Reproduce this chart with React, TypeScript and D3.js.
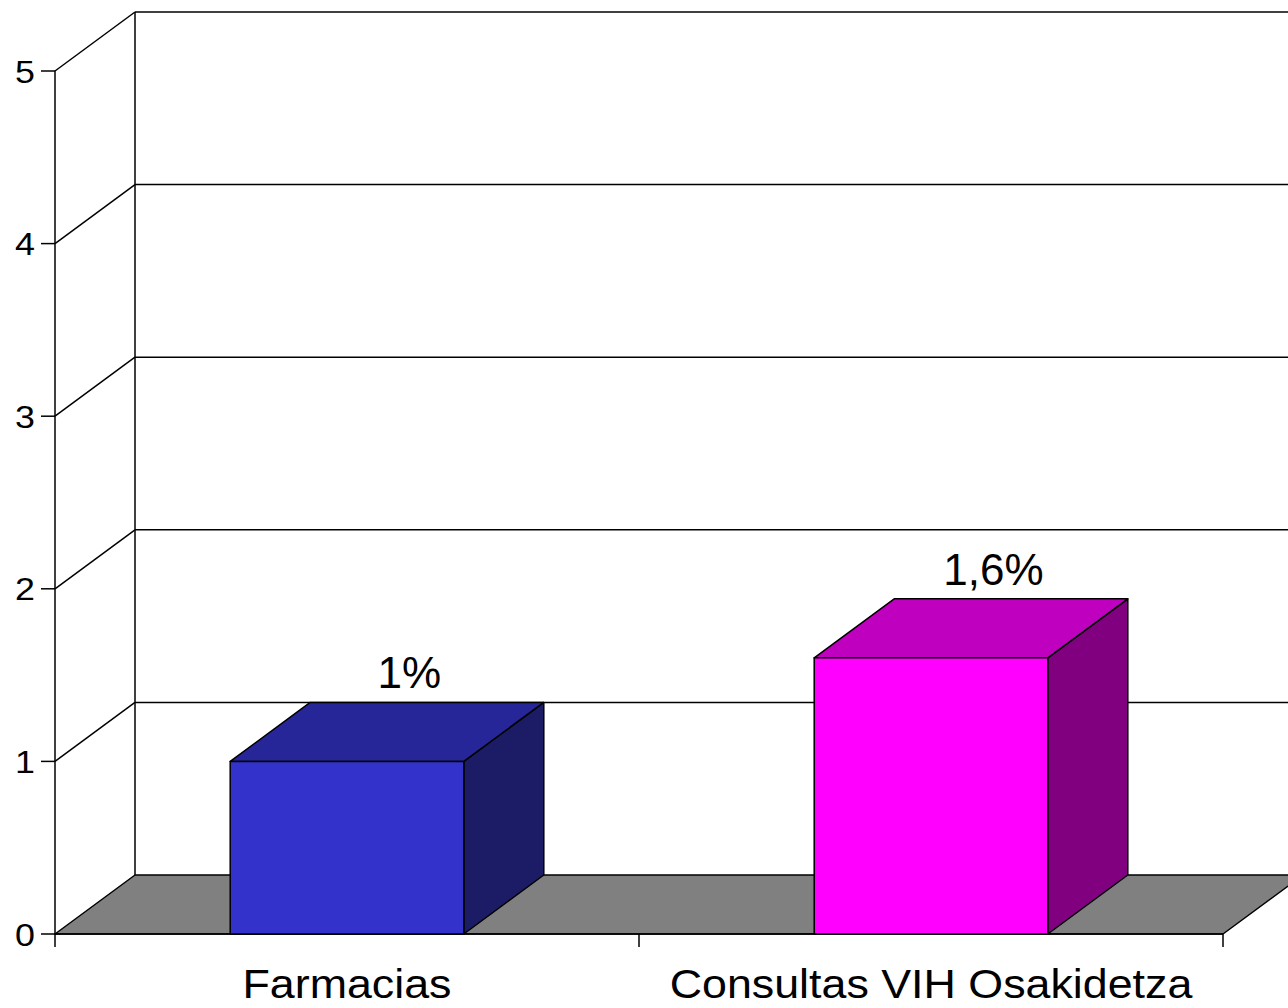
import React from "react";
import * as d3 from "d3";

const categories = ["Farmacias", "Consultas VIH Osakidetza"];
const values = [1, 1.6];
const valueLabels = ["1%", "1,6%"];
const yTicks = [0, 1, 2, 3, 4, 5];
const frontColors = ["#3333CC", "#FF00FF"];
const topColors = ["#262699", "#BF00BF"];
const sideColors = ["#1C1C66", "#800080"];

const W = 1288;
const H = 1008;
const DX = 80;
const DY = -59;
const FONT = "Liberation Sans, Arial, sans-serif";

export default function App() {
  const x = d3
    .scaleBand<string>()
    .domain(categories)
    .range([55, 1223])
    .paddingInner(0.6)
    .paddingOuter(0.3);
  const y = d3.scaleLinear().domain([0, 5]).range([934, 71]);
  const x0 = 55;
  const x1 = 1223;
  const y0 = y(0);
  const yTop = y(5);
  const sw = 1.5;
  const step = x.step();
  const catEdges = [x0, x0 + step, x0 + 2 * step];

  const poly = (pts: [number, number][]) => pts.map((p) => p.join(",")).join(" ");

  return (
    <svg
      width={W}
      height={H}
      style={{ position: "absolute", left: 0, top: 0, display: "block", background: "#fff" }}
    >
      {/* back wall */}
      <line x1={x0 + DX} y1={y0 + DY} x2={x0 + DX} y2={yTop + DY} stroke="#000" strokeWidth={sw} />
      {yTicks.slice(1).map((t) => (
        <g key={"g" + t}>
          <line x1={x0 + DX} y1={y(t) + DY} x2={W + 10} y2={y(t) + DY} stroke="#000" strokeWidth={sw} />
          <line x1={x0} y1={y(t)} x2={x0 + DX} y2={y(t) + DY} stroke="#000" strokeWidth={sw} />
        </g>
      ))}
      {/* floor */}
      <polygon
        points={poly([
          [x0, y0],
          [x1, y0],
          [x1 + DX, y0 + DY],
          [x0 + DX, y0 + DY],
        ])}
        fill="#808080"
        stroke="#000"
        strokeWidth={sw}
        strokeLinejoin="round"
      />
      {/* front axis */}
      <line x1={x0} y1={y0} x2={x0} y2={yTop} stroke="#000" strokeWidth={sw} />
      <line x1={x0} y1={y0} x2={x1} y2={y0} stroke="#000" strokeWidth={sw} />
      {yTicks.map((t) => (
        <g key={"t" + t}>
          <line x1={x0 - 14} y1={y(t)} x2={x0} y2={y(t)} stroke="#000" strokeWidth={sw} />
          <text
            transform={`translate(35,${y(t)}) scale(1.12,1)`}
            dy="0.36em"
            textAnchor="end"
            fontFamily={FONT}
            fontSize={32}
            fill="#000"
          >
            {t}
          </text>
        </g>
      ))}
      {catEdges.map((e, i) => (
        <line key={"c" + i} x1={e} y1={y0} x2={e} y2={y0 + 13} stroke="#000" strokeWidth={sw} />
      ))}
      {/* bars */}
      {categories.map((c, i) => {
        const bx = x(c) as number;
        const bw = x.bandwidth();
        const by = y(values[i]);
        return (
          <g key={c} stroke="#000" strokeWidth={sw} strokeLinejoin="round">
            <polygon
              points={poly([
                [bx + bw, y0],
                [bx + bw + DX, y0 + DY],
                [bx + bw + DX, by + DY],
                [bx + bw, by],
              ])}
              fill={sideColors[i]}
            />
            <polygon
              points={poly([
                [bx, by],
                [bx + bw, by],
                [bx + bw + DX, by + DY],
                [bx + DX, by + DY],
              ])}
              fill={topColors[i]}
            />
            <rect x={bx} y={by} width={bw} height={y0 - by} fill={frontColors[i]} />
            <text
              x={bx + bw / 2 + DX * 0.78}
              y={by + DY - 14}
              textAnchor="middle"
              fontFamily={FONT}
              fontSize={44}
              fill="#000"
              stroke="none"
            >
              {valueLabels[i]}
            </text>
          </g>
        );
      })}
      {/* category labels */}
      {categories.map((c) => (
        <text
          key={"l" + c}
          transform={`translate(${(x(c) as number) + x.bandwidth() / 2},998) scale(1.12,1)`}
          textAnchor="middle"
          fontFamily={FONT}
          fontSize={40}
          fill="#000"
        >
          {c}
        </text>
      ))}
    </svg>
  );
}
